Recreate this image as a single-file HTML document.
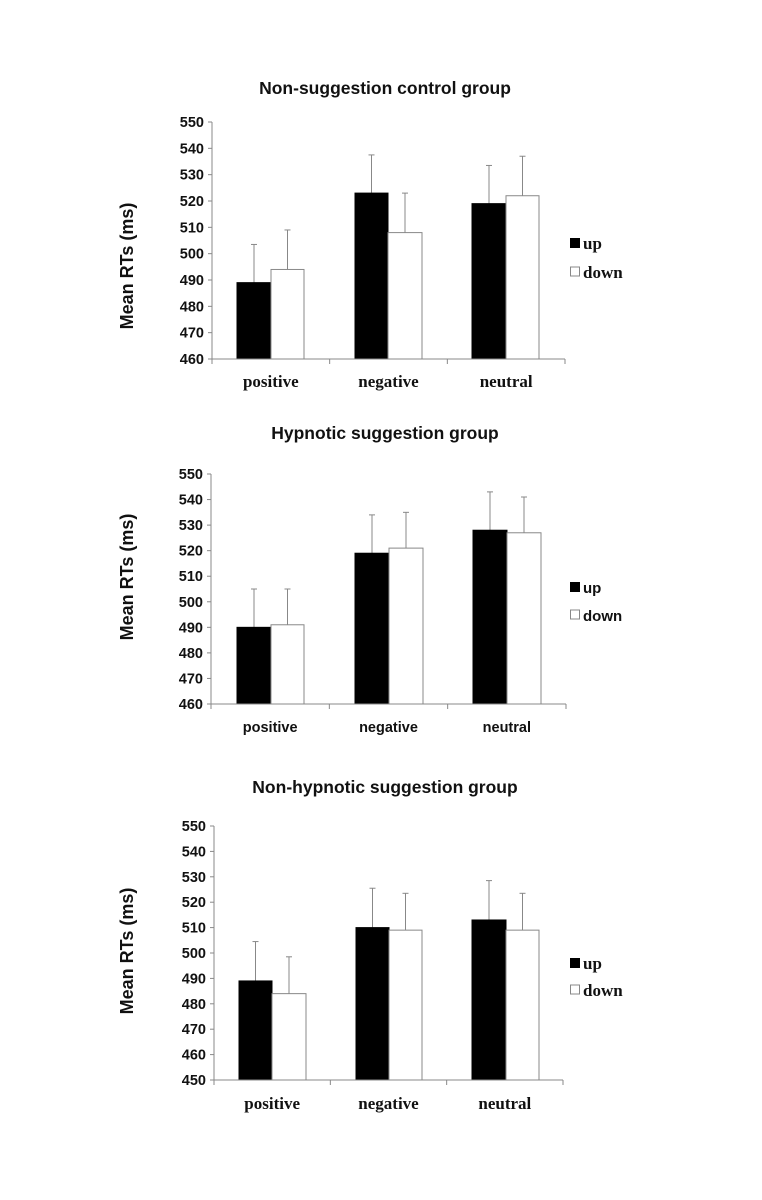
<!DOCTYPE html>
<html><head><meta charset="utf-8"><style>
html,body{margin:0;padding:0;background:#fff;}
svg{display:block;}
</style></head><body>
<svg id="s" width="762" height="1200" xmlns="http://www.w3.org/2000/svg" font-family="Liberation Sans, sans-serif"></svg>
<script>
var charts=[
 {title:"Non-suggestion control group",ty:94,ax:212,axEnd:565,top:122,bot:359,min:460,max:550,
  bars:[[237,271,304],[355,388,422],[472,506,539]],vals:[489,494,523,508,519,522],err:[503.5,509,537.5,523,533.5,537],
  leg:[243,272],xl:387,serif:true,ylab:266},
 {title:"Hypnotic suggestion group",ty:439,ax:211,axEnd:566,top:474,bot:704,min:460,max:550,
  bars:[[237,271,304],[355,389,423],[473,507,541]],vals:[490,491,519,521,528,527],err:[505,505,534,535,543,541],
  leg:[587,615],xl:732,serif:false,ylab:577},
 {title:"Non-hypnotic suggestion group",ty:793,ax:214,axEnd:563,top:826,bot:1080,min:450,max:550,
  bars:[[239,272,306],[356,389,422],[472,506,539]],vals:[489,484,510,509,513,509],err:[504.5,498.5,525.5,523.5,528.5,523.5],
  leg:[963,990],xl:1109,serif:true,ylab:951}
];
var h='';
charts.forEach(function(c){
 function Y(v){return c.bot-(v-c.min)/(c.max-c.min)*(c.bot-c.top);}
 h+='<text x="385" y="'+c.ty+'" text-anchor="middle" font-weight="bold" font-size="17.5" fill="#111">'+c.title+'</text>';
 h+='<text transform="translate(133,'+c.ylab+') rotate(-90)" text-anchor="middle" font-weight="bold" font-size="18" fill="#111">Mean RTs (ms)</text>';
 for(var i=0;i<3;i++){
  for(var j=0;j<2;j++){
   var x0=c.bars[i][j],x1=c.bars[i][j+1],v=c.vals[i*2+j],e=c.err[i*2+j],cx=(x0+x1)/2;
   h+='<line x1="'+cx+'" y1="'+Y(v)+'" x2="'+cx+'" y2="'+Y(e)+'" stroke="#888" stroke-width="1"/>';
   h+='<line x1="'+(cx-3)+'" y1="'+Y(e)+'" x2="'+(cx+3)+'" y2="'+Y(e)+'" stroke="#888" stroke-width="1"/>';
   h+='<rect x="'+x0+'" y="'+Y(v)+'" width="'+(x1-x0)+'" height="'+(c.bot-Y(v))+'" fill="'+(j==0?'#000':'#fff')+'" stroke="'+(j==0?'#000':'#888')+'" stroke-width="1"/>';
  }
 }
 h+='<line x1="'+c.ax+'" y1="'+c.top+'" x2="'+c.ax+'" y2="'+c.bot+'" stroke="#888" stroke-width="1"/>';
 h+='<line x1="'+c.ax+'" y1="'+c.bot+'" x2="'+c.axEnd+'" y2="'+c.bot+'" stroke="#888" stroke-width="1"/>';
 for(var v=c.min;v<=c.max;v+=10){
  var y=Y(v);
  h+='<line x1="'+(c.ax-4)+'" y1="'+y+'" x2="'+c.ax+'" y2="'+y+'" stroke="#888"/>';
  h+='<text x="'+(c.ax-8)+'" y="'+(y+5)+'" text-anchor="end" font-weight="bold" font-size="14.5" fill="#111">'+v+'</text>';
 }
 var w=(c.axEnd-c.ax)/3;
 for(var k=0;k<=3;k++){var x=c.ax+w*k;h+='<line x1="'+x+'" y1="'+c.bot+'" x2="'+x+'" y2="'+(c.bot+5)+'" stroke="#888"/>';}
 var ff=c.serif?' font-family="Liberation Serif, serif"':'';
 var fs=c.serif?17:14.5;
 var lfs=c.serif?17:15;
 ['positive','negative','neutral'].forEach(function(t,k){
  h+='<text x="'+(c.ax+w*(k+0.5))+'" y="'+c.xl+'" text-anchor="middle" font-weight="bold" font-size="'+fs+'"'+ff+' fill="#111">'+t+'</text>';
 });
 h+='<rect x="570" y="'+(c.leg[0]-5)+'" width="10" height="10" fill="#000"/>';
 h+='<rect x="570.5" y="'+(c.leg[1]-5)+'" width="9" height="9" fill="#fff" stroke="#888"/>';
 h+='<text x="583" y="'+(c.leg[0]+6)+'" font-weight="bold" font-size="'+lfs+'"'+ff+' fill="#111">up</text>';
 h+='<text x="583" y="'+(c.leg[1]+6)+'" font-weight="bold" font-size="'+lfs+'"'+ff+' fill="#111">down</text>';
});
document.getElementById('s').innerHTML=h;
</script>
</body></html>
